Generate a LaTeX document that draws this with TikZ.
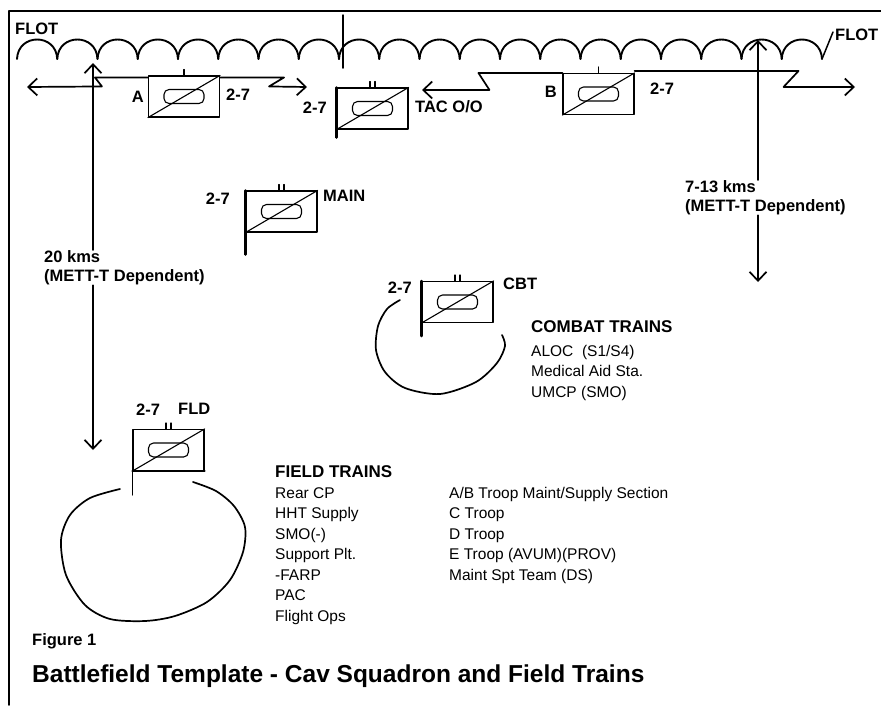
\documentclass[tikz,border=0pt]{standalone}
\usepackage{fontspec}
\setmainfont{Liberation Sans}
\usepackage{tikz}
\usetikzlibrary{arrows.meta}

\begin{document}
\begin{tikzpicture}[
    x=1pt,y=-1pt,line cap=round,line join=round,
    unit/.style={draw,line width=1.1pt,minimum width=71pt,minimum height=41pt,
      inner sep=0pt},
    oval/.style={draw,line width=1.1pt,rounded corners=5pt,minimum width=40pt,
      minimum height=14pt,inner sep=0pt},
    staff/.style={line width=2.4pt},
    lbl/.style={font=\bfseries\fontsize{16.5}{19.5}\selectfont,inner sep=0pt},
    head/.style={font=\bfseries\fontsize{17}{20}\selectfont,inner sep=0pt,
      anchor=north west},
    txt/.style={font=\fontsize{15.5}{20.5}\selectfont,inner sep=0pt,align=left,
      anchor=north west},
    bnd/.style={line width=1.7pt},
    barb/.style={-{Straight Barb[length=9pt,width=17pt]}},
    ring/.style={line width=1.7pt}
]
\useasboundingbox (0,0) rectangle (881,705);

\draw[line width=1.8pt] (881,11) -- (9,11) -- (9,705);

\foreach \i in {0,...,19} {
  \draw[line width=1.9pt] ({17+40.25*\i},59) .. controls ({18+40.25*\i},33)
    and ({56.25+40.25*\i},33) .. ({57.25+40.25*\i},59);
}
\draw[line width=1.5pt] (822,59) -- (833,32);
\draw[line width=1.5pt] (343,15) -- (343,68);

\node[lbl,anchor=west] (flotL) at (15,29) {FLOT};
\node[lbl,anchor=west] (flotR) at (835,35) {FLOT};

\node[unit] (uA) at (184,96.5) {};
\node[unit] (uTac) at (372.5,108.5) {};
\node[unit] (uB) at (598.5,94) {};
\node[unit] (uMain) at (281.5,211.5) {};
\node[unit] (uCbt) at (457.5,302) {};
\node[unit] (uFld) at (168.5,450) {};

\foreach \u in {uA,uTac,uB,uMain,uCbt,uFld} {
  \draw[line width=1.1pt] (\u.south west) -- (\u.north east);
  \node[oval] (\u-ov) at (\u.center) {};
}
\foreach \u in {uA,uB}
  \draw[line width=1.1pt] (\u.north) -- ++(0,-6);
\foreach \u in {uTac,uMain,uCbt,uFld} {
  \draw[line width=1.1pt] ([xshift=-2.5]\u.north) -- ++(0,-6);
  \draw[line width=1.1pt] ([xshift=2.5]\u.north) -- ++(0,-6);
}
\foreach \u/\d in {uTac/8,uMain/22,uCbt/13}
  \draw[staff] (\u.north west) -- ([yshift=-\d]\u.south west);
\draw[line width=1.1pt] (uFld.south west) -- ++(0,24);
\draw[staff] (uFld.south west) -- (uFld.south east);

\node[lbl,anchor=east] (nA) at (144,97) {A};
\node[lbl,anchor=west] (nA27) at (226,95) {2-7};
\node[lbl,anchor=east] (nTac27) at (327,108) {2-7};
\node[lbl,anchor=west] (nTac) at (415,107) {TAC O/O};
\node[lbl,anchor=east] (nB) at (557,91.5) {B};
\node[lbl,anchor=west] (nB27) at (650,89) {2-7};
\node[lbl,anchor=east] (nMain27) at (230,199) {2-7};
\node[lbl,anchor=west] (nMain) at (323,196) {MAIN};
\node[lbl,anchor=east] (nCbt27) at (412,288) {2-7};
\node[lbl,anchor=west] (nCbt) at (503,284) {CBT};
\node[lbl,anchor=west] (nFld27) at (136,410) {2-7};
\node[lbl,anchor=west] (nFld) at (178,409) {FLD};

\begin{scope}
  \coordinate (aLend) at (27,87);
  \coordinate (aRend) at (307,87);
  \coordinate (tacEnd) at (422,90);
  \coordinate (bEnd) at (855,87);

  \begin{scope}[every path/.style={bnd,barb}]
    \draw ([yshift=-2]uA.north west) -- ++(-53,0) -- ++(7,9) -- (aLend);
    \draw ([yshift=-2]uA.north east) -- ++(64,0) -- ++(-15,9) -- (aRend);
    \draw (uB.north west) -- ++(-84,0) -- ++(11,17) -- (tacEnd);
    \draw ([yshift=2]uB.north east) -- ++(164,0) -- ++(-15,16) -- (bEnd);
  \end{scope}
\end{scope}

\node[lbl,align=left,anchor=north west] (km20) at (44,250)
  {20 kms\\(METT-T Dependent)};
\node[lbl,align=left,anchor=north west] (km713) at (685,180)
  {7-13 kms\\(METT-T Dependent)};

\coordinate (lTop) at (93,63);
\coordinate (lBot) at (93,450);
\coordinate (rTop) at (758,40);
\coordinate (rBot) at (758,282);
\draw[bnd,barb] (lTop |- km20.north) -- (lTop);
\draw[bnd,barb] (lTop |- km20.south) -- (lBot);
\draw[bnd,barb] (rTop |- km713.north) -- (rTop);
\draw[bnd,barb] (rTop |- km713.south) -- (rBot);

\draw[ring] plot[smooth] coordinates {(400,300) (387,309) (378,326) (376,350)
  (385,372) (405,388) (440,394) (476,382) (497,363) (505,346) (502,335)};
\draw[ring] plot[smooth] coordinates {(120,489) (90,498) (70,515) (61,540)
  (66,575) (85,605) (110,619) (145,621) (175,616) (207,602) (230,580)
  (243,552) (245,527) (234,506) (216,491) (193,482)};

\node[head] (trCbt) at (531,320) {COMBAT TRAINS};
\node[txt] (lsCbt) at (531,345) {ALOC\ \ (S1/S4)\\Medical Aid Sta.\\UMCP (SMO)};
\node[head] (trFld) at (275,465) {FIELD TRAINS};
\node[txt] (lsFld) at (275,487)
  {Rear CP\\HHT Supply\\SMO(-)\\Support Plt.\\-FARP\\PAC\\Flight Ops};
\node[txt] (lsTroop) at (449,487)
  {A/B Troop Maint/Supply Section\\C Troop\\D Troop\\E Troop (AVUM)(PROV)\\Maint Spt Team (DS)};

\node[lbl,anchor=north west] (fig) at (32,633) {Figure 1};
\node[anchor=north west,inner sep=0pt,font=\bfseries\fontsize{24.5}{28}\selectfont]
  (title) at (32,665) {Battlefield Template - Cav Squadron and Field Trains};
\end{tikzpicture}
\end{document}
